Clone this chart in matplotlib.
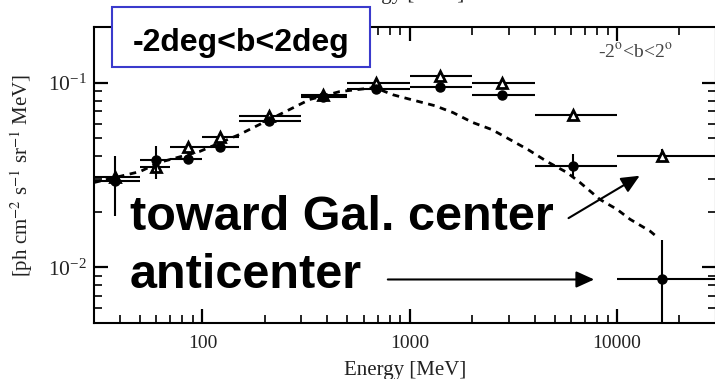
import numpy as np
import matplotlib.pyplot as plt
from matplotlib.patches import Rectangle

plt.rcParams['font.family'] = ['Liberation Serif', 'DejaVu Serif']
plt.rcParams['mathtext.fontset'] = 'stix'

# energy bins [MeV]
e_mid = np.array([38, 60, 85, 122, 210, 380, 690, 1400, 2800, 6100, 16500])
e_lo = np.array([30, 50, 70, 100, 150, 300, 500, 1000, 2000, 4000, 10000])
e_hi = np.array([50, 70, 100, 150, 300, 500, 1000, 2000, 4000, 10000, 40000])

# toward Galactic center (open triangles)
f_center = np.array([0.031, 0.035, 0.0446, 0.051, 0.066, 0.086, 0.099, 0.109, 0.099, 0.067, 0.040])
center_lo = np.array([0.031, 0.035, 0.0446, 0.051, 0.066, 0.086, 0.099, 0.109, 0.099, 0.067, 0.037])
center_hi = np.array([0.031, 0.035, 0.0446, 0.051, 0.066, 0.086, 0.099, 0.109, 0.099, 0.067, 0.0435])

# anticenter (filled circles)
f_anti = np.array([0.0295, 0.038, 0.0384, 0.0446, 0.062, 0.084, 0.092, 0.095, 0.086, 0.0352, 0.0086])
anti_lo = np.array([0.019, 0.030, 0.0384, 0.0446, 0.062, 0.084, 0.092, 0.095, 0.086, 0.031, 0.003])
anti_hi = np.array([0.040, 0.0456, 0.0384, 0.0446, 0.062, 0.084, 0.092, 0.095, 0.086, 0.041, 0.014])

# model spectrum (dashed)
model_e = np.array([30, 50, 62, 97, 151, 235, 329, 459, 678, 828, 1057, 1321, 1614, 2015,
                    2489, 3041, 3718, 4592, 5737, 6624, 8275, 10000, 11560, 14440, 15270])
model_f = np.array([0.0288, 0.0330, 0.037, 0.0424, 0.0524, 0.0671, 0.081, 0.0894, 0.094, 0.086,
                    0.080, 0.075, 0.0689, 0.0608, 0.0557, 0.0492, 0.0434, 0.0374, 0.0326, 0.0288,
                    0.0233, 0.0206, 0.0182, 0.0157, 0.0149])

fig = plt.figure(figsize=(7.15, 3.79), dpi=100)
ax = fig.add_axes([94 / 715, 56 / 379, 622 / 715, 296 / 379])

ax.plot(model_e, model_f, color='black', lw=2, dashes=(2.4, 2.0), zorder=2)

ax.errorbar(e_mid, f_center, xerr=[e_mid - e_lo, e_hi - e_mid],
            yerr=[f_center - center_lo, center_hi - f_center],
            fmt='^', ms=7, mfc='white', mec='black', mew=2, ecolor='black',
            elinewidth=1.5, capsize=0, zorder=3)
ax.errorbar(e_mid, f_anti, xerr=[e_mid - e_lo, e_hi - e_mid],
            yerr=[f_anti - anti_lo, anti_hi - f_anti],
            fmt='o', ms=6.5, mfc='black', mec='black', ecolor='black',
            elinewidth=1.5, capsize=0, zorder=4)

ax.set_xscale('log')
ax.set_yscale('log')
ax.set_xlim(30, 30000)
ax.set_ylim(0.005, 0.2)

ax.tick_params(which='both', direction='in', top=True, right=True, colors='black')
ax.tick_params(which='major', length=10, width=1.6)
ax.tick_params(which='minor', length=6, width=1.2)
ax.tick_params(axis='x', which='major', labelsize=14, pad=9, labelcolor='#222222')
ax.tick_params(axis='y', which='major', labelsize=15.5, pad=5, labelcolor='#222222')
for s in ax.spines.values():
    s.set_linewidth(1.5)

ax.set_xticks([100, 1000, 10000])
ax.set_xticklabels(['100', '1000', '10000'])

ax.set_xlabel('Energy [MeV]', fontsize=15, color='#222222')
ax.xaxis.set_label_coords(0.5, -0.13)
ax.set_ylabel(r'[ph cm$^{-2}$ s$^{-1}$ sr$^{-1}$ MeV]', fontsize=15, color='#222222')
ax.yaxis.set_label_coords(-0.095, 0.5)

ax.text(0.87, 0.915, r'-2$^{\rm o}$<b<2$^{\rm o}$', transform=ax.transAxes,
        fontsize=14, color='#444444', ha='center', va='center')

# annotations
bold = dict(family=['Liberation Sans', 'DejaVu Sans'], weight='bold', color='black')
ax.text(0.058, 0.314, 'toward Gal. center', transform=ax.transAxes,
        fontsize=35, va='baseline', ha='left', **bold)
ax.text(0.058, 0.118, 'anticenter', transform=ax.transAxes,
        fontsize=35, va='baseline', ha='left', **bold)
arrow = dict(arrowstyle='-|>,head_length=1.1,head_width=0.5', color='black', lw=1.5)
ax.annotate('', xy=(13200, 0.0319), xytext=(5680, 0.01815), arrowprops=arrow)
ax.annotate('', xy=(8000, 0.0086), xytext=(760, 0.0086), arrowprops=arrow)

# latitude range box
fig.add_artist(Rectangle((112 / 715, 1 - 67 / 379), 258 / 715, 60 / 379,
                         transform=fig.transFigure, facecolor='white',
                         edgecolor='#3a3acc', lw=1.5, zorder=5))
fig.text(241 / 715, 1 - 43 / 379, '-2deg<b<2deg', fontsize=23, ha='center',
         va='center', zorder=6, **bold)

# axis label of the panel above
fig.text(403 / 715, 1 + 1 / 379, 'Energy [MeV]', fontsize=15, color='#222222',
         ha='center', va='baseline')

fig.savefig('out.png', dpi=100)
